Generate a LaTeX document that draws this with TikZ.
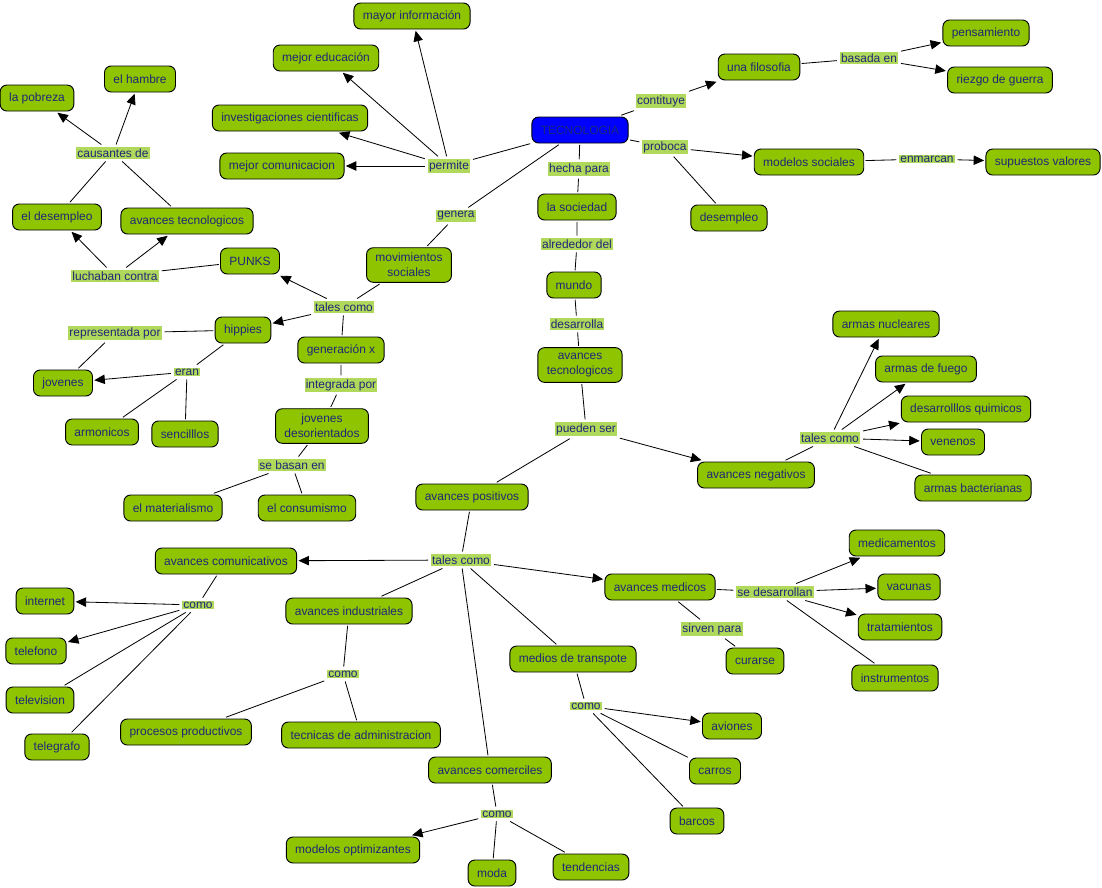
\documentclass[tikz,border=0pt]{standalone}
\usepackage{fontspec}
\setmainfont{Liberation Sans}
\usetikzlibrary{arrows.meta}
\definecolor{cgreen}{RGB}{142,197,0}
\definecolor{lgreen}{RGB}{176,216,90}
\definecolor{navy}{RGB}{28,40,120}

\begin{document}
\begin{tikzpicture}[
  x=0.03cm, y=-0.03cm,
  every node/.style={font=\fontsize{10.2}{12.8}\selectfont, text=navy, align=center},
  box/.style={draw, fill=cgreen, rounded corners=2mm, minimum height=0.78cm, inner xsep=7.6pt, inner ysep=4.6pt, line width=0.8pt, outer sep=1.5pt},
  lnk/.style={fill=lgreen, inner sep=1pt, outer sep=2.5pt},
  >={Triangle[length=9pt,width=8pt]},
  line width=0.7pt
]
\useasboundingbox (0,0) rectangle (1102,887);

% centre
\node[box, fill=blue] (tec) at (580,130) {TECNOLOGIA};
\node[lnk] (perm) at (449,166) {permite};
\node[box] (info) at (412,16) {mayor información};
\node[box] (edu) at (326,58) {mejor educación};
\node[box] (inv) at (290,118) {investigaciones cientificas};
\node[box] (com) at (282,166) {mejor comunicacion};
\node[lnk] (cons) at (661,101) {contituye};
\node[box] (filo) at (759,67) {una filosofia};
\node[lnk] (bas) at (869,58) {basada en};
\node[box] (pens) at (986,33) {pensamiento};
\node[box] (guer) at (1000,80) {riezgo de guerra};
\node[lnk] (prob) at (665,147) {proboca};
\node[box] (mods) at (809,162) {modelos sociales};
\node[lnk] (enm) at (927,159) {enmarcan};
\node[box] (val) at (1043,162) {supuestos valores};
\node[box] (desm) at (729,218) {desempleo};
\node[lnk] (hech) at (579,169) {hecha para};
\node[box] (soc) at (577,207) {la sociedad};
\node[lnk] (alr) at (577,244) {alrededor del};
\node[box] (mun) at (574,285) {mundo};
\node[lnk] (des) at (577,324) {desarrolla};
\node[box] (avt) at (580,365) {avances\\tecnologicos};

% movimientos sociales
\node[lnk] (gen) at (456,216) {genera};
\node[box] (mov) at (409,265) {movimientos\\sociales};
\node[lnk] (tc1) at (344,307) {tales como};
\node[box] (punk) at (250,261) {PUNKS};
\node[lnk] (luch) at (115,276) {luchaban contra};
\node[box] (edes) at (57,217) {el desempleo};
\node[box] (avt2) at (187,221) {avances tecnologicos};
\node[lnk] (caus) at (113,153) {causantes de};
\node[box] (pob) at (37,98) {la pobreza};
\node[box] (hamb) at (140,79) {el hambre};
\node[box] (hip) at (243,330) {hippies};
\node[lnk] (rep) at (115,333) {representada por};
\node[lnk] (eran) at (187,372) {eran};
\node[box] (jov) at (63,383) {jovenes};
\node[box] (arm) at (102,432) {armonicos};
\node[box] (sen) at (185,434) {sencilllos};
\node[box] (genx) at (341,350) {generación x};
\node[lnk] (integ) at (341,385) {integrada por};
\node[box] (jdes) at (322,426) {jovenes\\desorientados};
\node[lnk] (basn) at (292,465) {se basan en};
\node[box] (mat) at (173,508) {el materialismo};
\node[box] (cnsm) at (307,508) {el consumismo};

% avances
\node[lnk] (pued) at (586,429) {pueden ser};
\node[box] (pos) at (472,497) {avances positivos};
\node[box] (neg) at (756,475) {avances negativos};
\node[lnk] (tc2) at (830,438) {tales como};
\node[box] (nuc) at (886,324) {armas nucleares};
\node[box] (fue) at (926,369) {armas de fuego};
\node[box] (qui) at (966,409) {desarrolllos quimicos};
\node[box] (ven) at (953,442) {venenos};
\node[box] (bac) at (973,488) {armas bacterianas};
\node[lnk] (tc3) at (461,560) {tales como};
\node[box] (comu) at (226,561) {avances comunicativos};
\node[lnk] (como1) at (198,605) {como};
\node[box] (inet) at (45,601) {internet};
\node[box] (tel) at (36,651) {telefono};
\node[box] (tv) at (40,700) {television};
\node[box] (tgr) at (57,747) {telegrafo};
\node[box] (ind) at (349,611) {avances industriales};
\node[lnk] (como2) at (343,674) {como};
\node[box] (proc) at (186,732) {procesos productivos};
\node[box] (adm) at (361,735) {tecnicas de administracion};
\node[box] (med) at (660,587) {avances medicos};
\node[lnk] (sdes) at (775,592) {se desarrollan};
\node[box] (medi) at (897,543) {medicamentos};
\node[box] (vac) at (909,587) {vacunas};
\node[box] (trat) at (900,627) {tratamientos};
\node[box] (inst) at (895,678) {instrumentos};
\node[lnk] (sirv) at (712,629) {sirven para};
\node[box] (cur) at (755,661) {curarse};
\node[box] (tran) at (573,659) {medios de transpote};
\node[lnk] (como3) at (586,706) {como};
\node[box] (avi) at (732,726) {aviones};
\node[box] (car) at (715,771) {carros};
\node[box] (bar) at (697,821) {barcos};
\node[box] (comr) at (490,770) {avances comerciles};
\node[lnk] (como4) at (497,814) {como};
\node[box] (opt) at (353,850) {modelos optimizantes};
\node[box] (moda) at (492,873) {moda};
\node[box] (tend) at (591,867) {tendencias};

\draw (tec) -- (perm);
\draw[->] (perm) -- (info);
\draw[->] (perm) -- (edu);
\draw[->] (perm) -- (inv);
\draw[->] (perm) -- (com);
\draw (tec) -- (cons);
\draw[->] (cons) -- (filo);
\draw (filo) -- (bas);
\draw[->] (bas) -- (pens);
\draw[->] (bas) -- (guer);
\draw (tec) -- (prob);
\draw[->] (prob) -- (mods);
\draw (prob) -- (desm);
\draw (mods) -- (enm);
\draw[->] (enm) -- (val);
\draw (tec) -- (hech) -- (soc) -- (alr) -- (mun) -- (des) -- (avt);
\draw (tec) -- (gen) -- (mov);
\draw (mov) -- (tc1);
\draw[->] (tc1) -- (punk);
\draw[->] (tc1) -- (hip);
\draw (tc1) -- (genx);
\draw (punk) -- (luch);
\draw[->] (luch) -- (edes);
\draw[->] (luch) -- (avt2);
\draw (edes) -- (caus);
\draw (avt2) -- (caus);
\draw[->] (caus) -- (pob);
\draw[->] (caus) -- (hamb);
\draw (hip) -- (rep) -- (jov);
\draw (hip) -- (eran);
\draw[->] (eran) -- (jov);
\draw (eran) -- (arm);
\draw (eran) -- (sen);
\draw (genx) -- (integ) -- (jdes);
\draw (jdes) -- (basn);
\draw (basn) -- (mat);
\draw (basn) -- (cnsm);
\draw (avt) -- (pued);
\draw (pued) -- (pos);
\draw[->] (pued) -- (neg);
\draw (neg) -- (tc2);
\draw[->] (tc2) -- (nuc);
\draw[->] (tc2) -- (fue);
\draw[->] (tc2) -- (qui);
\draw[->] (tc2) -- (ven);
\draw (tc2) -- (bac);
\draw (pos) -- (tc3);
\draw[->] (tc3) -- (comu);
\draw (tc3) -- (ind);
\draw[->] (tc3) -- (med);
\draw (tc3) -- (tran);
\draw (tc3) -- (comr);
\draw (comu) -- (como1);
\draw[->] (como1) -- (inet);
\draw[->] (como1) -- (tel);
\draw (como1) -- (tv);
\draw (como1) -- (tgr);
\draw (ind) -- (como2);
\draw (como2) -- (proc);
\draw (como2) -- (adm);
\draw (med) -- (sdes);
\draw[->] (sdes) -- (medi);
\draw[->] (sdes) -- (vac);
\draw[->] (sdes) -- (trat);
\draw (sdes) -- (inst);
\draw (med) -- (sirv) -- (cur);
\draw (tran) -- (como3);
\draw[->] (como3) -- (avi);
\draw (como3) -- (car);
\draw (como3) -- (bar);
\draw (comr) -- (como4);
\draw[->] (como4) -- (opt);
\draw (como4) -- (moda);
\draw (como4) -- (tend);
\end{tikzpicture}
\end{document}
